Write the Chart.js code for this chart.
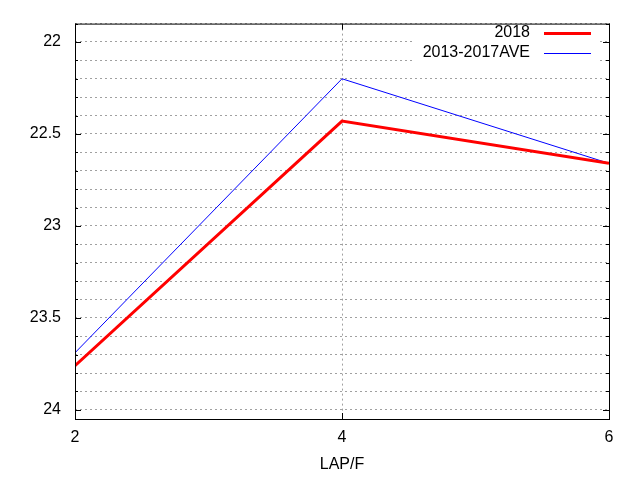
<!DOCTYPE html>
<html>
<head>
<meta charset="utf-8">
<script src="https://cdn.jsdelivr.net/npm/chart.js@4.4.0/dist/chart.umd.min.js"></script>
<style>
  html, body { margin: 0; padding: 0; background: #fff; }
  #wrap { width: 640px; height: 480px; }
</style>
</head>
<body>
<div id="wrap"><canvas id="chart" width="640" height="480"></canvas></div>
<script>
// data
const laps = [2, 4, 6];
const times2018 = [23.76, 22.43, 22.66];
const timesAve = [23.69, 22.20, 22.66];
const seriesNames = ['2018', '2013-2017AVE'];
const xTicks = [2, 4, 6];
const yLabels = [22, 22.5, 23, 23.5, 24];
const yMinorStep = 0.1;

Chart.defaults.font.family = "'Liberation Sans', Arial, sans-serif";
Chart.defaults.font.size = 16;
Chart.defaults.color = '#000';

const toPoints = arr => laps.map((x, i) => ({ x: x, y: arr[i] }));
const isLabel = v => yLabels.some(l => Math.abs(l - v) < 1e-6);

// minor y ticks every 0.1 between the axis limits
function yTickValues(min, max) {
  const out = [];
  for (let i = Math.ceil(min / yMinorStep - 1e-6); i * yMinorStep <= max + 1e-9; i++) {
    out.push({ value: Math.round(i * yMinorStep * 10) / 10 });
  }
  return out;
}

// gnuplot style frame, inward ticks and key
const frame = {
  id: 'frame',
  afterDraw(chart) {
    const ctx = chart.ctx;
    const a = chart.chartArea;
    const xs = chart.scales.x, ys = chart.scales.y;

    // key box
    ctx.save();
    ctx.fillStyle = '#fff';
    ctx.fillRect(415, a.top + 1, 184, 44);
    ctx.font = "16px 'Liberation Sans', Arial, sans-serif";
    ctx.textAlign = 'right';
    ctx.textBaseline = 'middle';
    chart.data.datasets.forEach((ds, i) => {
      const y = 33 + i * 19.5;
      ctx.fillStyle = '#000';
      ctx.fillText(ds.label, 530, y);
      ctx.strokeStyle = ds.borderColor;
      ctx.lineWidth = ds.borderWidth;
      ctx.beginPath();
      ctx.moveTo(544, Math.round(y) + 0.5);
      ctx.lineTo(591, Math.round(y) + 0.5);
      ctx.stroke();
    });

    // ticks
    ctx.strokeStyle = '#000';
    ctx.lineWidth = 1;
    ctx.beginPath();
    ys.ticks.forEach(t => {
      const p = Math.round(ys.getPixelForValue(t.value)) + 0.5;
      const len = isLabel(t.value) ? 6 : 3;
      ctx.moveTo(a.left, p); ctx.lineTo(a.left + len, p);
      ctx.moveTo(a.right, p); ctx.lineTo(a.right - len, p);
    });
    xs.ticks.forEach(t => {
      const p = Math.round(xs.getPixelForValue(t.value)) + 0.5;
      ctx.moveTo(p, a.bottom); ctx.lineTo(p, a.bottom - 6);
      ctx.moveTo(p, a.top); ctx.lineTo(p, a.top + 6);
    });
    ctx.stroke();

    // border
    ctx.strokeRect(a.left + 0.5, a.top + 0.5, a.right - a.left, a.bottom - a.top);
    ctx.restore();
  }
};

new Chart(document.getElementById('chart'), {
  type: 'line',
  data: {
    datasets: [{
      label: seriesNames[0],
      data: toPoints(times2018),
      borderColor: '#ff0000',
      borderWidth: 3,
      pointRadius: 0,
      tension: 0
    }, {
      label: seriesNames[1],
      data: toPoints(timesAve),
      borderColor: '#0000ff',
      borderWidth: 1,
      pointRadius: 0,
      tension: 0
    }]
  },
  options: {
    responsive: false,
    animation: false,
    layout: { padding: { top: 19, right: 31, left: 0, bottom: 0 } },
    plugins: {
      legend: { display: false },
      tooltip: { enabled: false }
    },
    scales: {
      x: {
        type: 'linear',
        min: 2,
        max: 6,
        afterBuildTicks: s => { s.ticks = xTicks.map(v => ({ value: v })); },
        afterFit: s => { s.height = 61; },
        ticks: { padding: 9, autoSkip: false, maxRotation: 0 },
        grid: { color: '#a0a0a0', lineWidth: 1, drawTicks: false },
        border: { display: false, dash: [2, 3] },
        title: { display: true, text: 'LAP/F', padding: { top: 0, bottom: 6 } }
      },
      y: {
        type: 'linear',
        reverse: true,
        min: 21.9,
        max: 24.05,
        afterBuildTicks: s => { s.ticks = yTickValues(s.min, s.max); },
        afterFit: s => { s.width = 75; },
        ticks: {
          autoSkip: false,
          padding: 14,
          callback: v => isLabel(v) ? String(v) : ''
        },
        grid: { color: '#a0a0a0', lineWidth: 1, drawTicks: false },
        border: { display: false, dash: [2, 3] }
      }
    }
  },
  plugins: [frame]
});
</script>
</body>
</html>
